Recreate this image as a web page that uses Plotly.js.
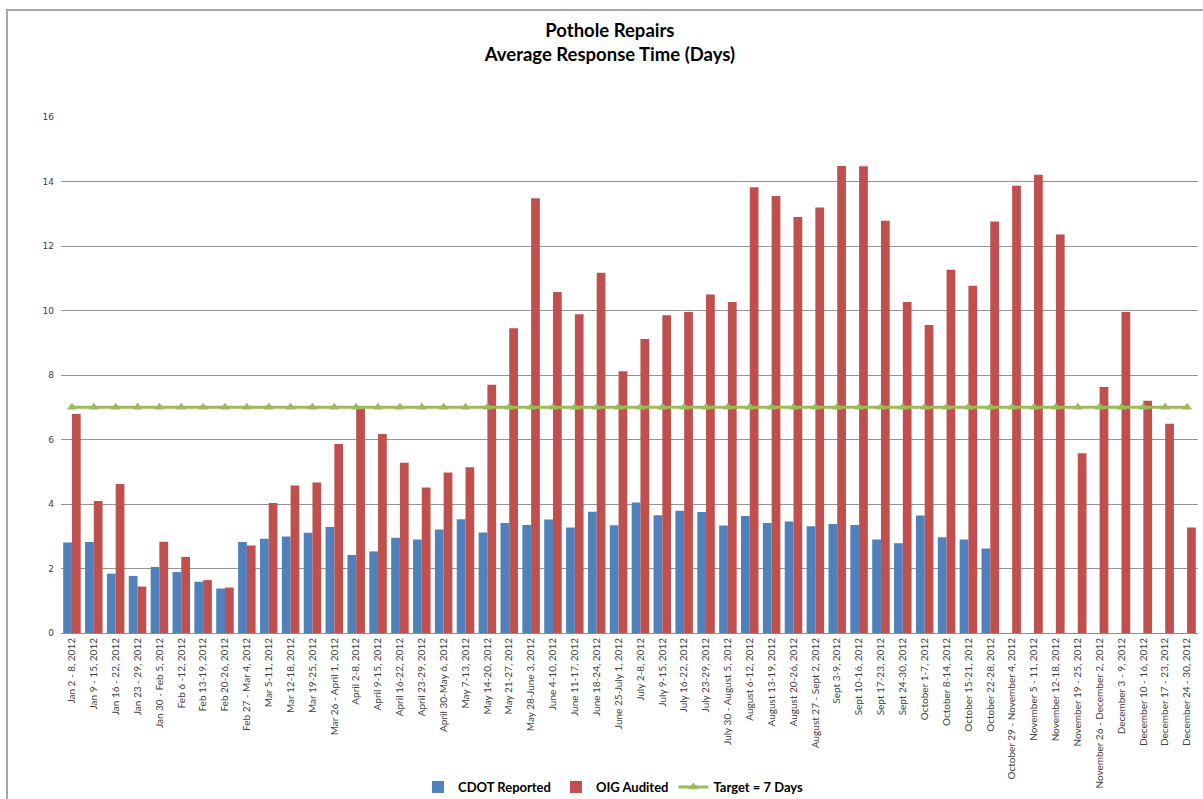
<!DOCTYPE html>
<html>
<head>
<meta charset="utf-8">
<script src="https://cdn.plot.ly/plotly-3.0.1.min.js"></script>
<style>
  html, body { margin: 0; padding: 0; background: #ffffff; }
  #chart { width: 1203px; height: 799px; }
</style>
</head>
<body>
<div id="chart"></div>
<script>
// Weekly reporting periods, 2012
const weeks = [
  "Jan 2 - 8, 2012", "Jan 9 - 15, 2012", "Jan 16 - 22, 2012", "Jan 23 - 29, 2012",
  "Jan 30 - Feb 5, 2012", "Feb 6 -12, 2012", "Feb 13-19, 2012", "Feb 20-26, 2012",
  "Feb 27 - Mar 4, 2012", "Mar 5-11, 2012", "Mar 12-18, 2012", "Mar 19-25, 2012",
  "Mar 26 - April 1, 2012", "April 2-8, 2012", "April 9-15, 2012", "April 16-22, 2012",
  "April 23-29, 2012", "April 30-May 6, 2012", "May 7-13, 2012", "May 14-20, 2012",
  "May 21-27, 2012", "May 28-June 3, 2012", "June 4-10, 2012", "June 11-17, 2012",
  "June 18-24, 2012", "June 25-July 1, 2012", "July 2-8, 2012", "July 9-15, 2012",
  "July 16-22, 2012", "July 23-29, 2012", "July 30 - August 5, 2012", "August 6-12, 2012",
  "August 13-19, 2012", "August 20-26, 2012", "August 27 - Sept 2, 2012", "Sept 3-9, 2012",
  "Sept 10-16, 2012", "Sept 17-23, 2012", "Sept 24-30, 2012", "October 1-7, 2012",
  "October 8-14, 2012", "October 15-21, 2012", "October 22-28, 2012", "October 29 - November 4, 2012",
  "November 5 - 11, 2012", "November 12-18, 2012", "November 19 - 25, 2012", "November 26 - December 2, 2012",
  "December 3 - 9, 2012", "December 10 - 16, 2012", "December 17 - 23, 2012", "December 24 - 30, 2012"
];

// Average response time in days, as reported by CDOT
const cdotReported = [
  2.81, 2.82, 1.84, 1.77, 2.05, 1.89, 1.59, 1.38,
  2.82, 2.92, 2.99, 3.11, 3.29, 2.42, 2.53, 2.95,
  2.90, 3.21, 3.53, 3.12, 3.41, 3.35, 3.52, 3.27,
  3.76, 3.34, 4.05, 3.65, 3.79, 3.75, 3.33, 3.63,
  3.41, 3.46, 3.31, 3.38, 3.35, 2.90, 2.78, 3.64,
  2.97, 2.90, 2.62, null, null, null, null, null,
  null, null, null, null
];

// Average response time in days, as audited by OIG
const oigAudited = [
  6.79, 4.09, 4.62, 1.44, 2.83, 2.36, 1.64, 1.41,
  2.71, 4.03, 4.57, 4.67, 5.86, 6.97, 6.17, 5.28,
  4.51, 4.98, 5.14, 7.70, 9.45, 13.48, 10.57, 9.88,
  11.17, 8.12, 9.12, 9.85, 9.95, 10.50, 10.26, 13.82,
  13.55, 12.90, 13.19, 14.48, 14.47, 12.78, 10.26, 9.55,
  11.26, 10.77, 12.76, 13.87, 14.21, 12.36, 5.57, 7.63,
  9.95, 7.20, 6.49, 3.27
];

// Response time target, days
const targetDays = [
  7, 7, 7, 7, 7, 7, 7, 7, 7, 7, 7, 7, 7,
  7, 7, 7, 7, 7, 7, 7, 7, 7, 7, 7, 7, 7,
  7, 7, 7, 7, 7, 7, 7, 7, 7, 7, 7, 7, 7,
  7, 7, 7, 7, 7, 7, 7, 7, 7, 7, 7, 7, 7
];

const yTicks = [0, 2, 4, 6, 8, 10, 12, 14, 16];

const traces = [
  {
    type: 'bar', name: 'CDOT Reported', x: weeks, y: cdotReported,
    marker: { color: '#4F81BD' }
  },
  {
    type: 'bar', name: 'OIG Audited', x: weeks, y: oigAudited,
    marker: { color: '#C0504D' }
  },
  {
    type: 'scatter', mode: 'lines+markers', name: 'Target = 7 Days', x: weeks, y: targetDays,
    line: { color: '#9BBB59', width: 3 },
    marker: { symbol: 'triangle-up', size: 9, color: '#9BBB59' }
  }
];

const layout = {
  width: 1203, height: 799,
  margin: { l: 61, r: 5, t: 117, b: 166 },
  paper_bgcolor: '#ffffff', plot_bgcolor: '#ffffff',
  font: { family: 'Lato, "Open Sans", sans-serif', color: '#404040' },
  title: {
    text: '<b>Pothole Repairs<br>Average Response Time (Days)</b>',
    font: { family: 'Lato, "Open Sans", sans-serif', size: 18.5, color: '#000000' },
    xref: 'container', x: 0.507, xanchor: 'center',
    yref: 'container', y: 0.954, yanchor: 'middle'
  },
  barmode: 'group', bargap: 0.2, bargroupgap: 0,
  showlegend: true,
  legend: {
    orientation: 'h', xref: 'container', x: 0.51, xanchor: 'center',
    yref: 'container', y: 0.015, yanchor: 'middle',
    font: { family: 'Lato, "Open Sans", sans-serif', size: 13, color: '#000000', weight: 'bold' },
    traceorder: 'normal', itemwidth: 30
  },
  xaxis: {
    type: 'category', range: [-0.5, 51.5], tickangle: -90, automargin: false,
    tickfont: { size: 10, color: '#404040' },
    showgrid: false, showline: true, linecolor: '#8c8c8c', linewidth: 1,
    ticks: '', zeroline: false, fixedrange: true
  },
  yaxis: {
    range: [0, 16], tickvals: yTicks, ticktext: yTicks.map(String), automargin: false,
    tickfont: { size: 9, color: '#404040', family: '"DejaVu Sans", sans-serif' },
    showgrid: true, gridcolor: '#949494', gridwidth: 1,
    zeroline: false, showline: false, ticks: '', ticklabelstandoff: 6, fixedrange: true
  },
  shapes: [
    {
      type: 'rect', xref: 'paper', yref: 'paper',
      x0: -0.0475, x1: 1.05, y0: -0.36, y1: 1.2074,
      line: { color: '#a6a6a6', width: 2 }, fillcolor: 'rgba(0,0,0,0)', layer: 'below'
    }
  ]
};

Plotly.newPlot('chart', traces, layout, { displayModeBar: false, staticPlot: true });
</script>
</body>
</html>
